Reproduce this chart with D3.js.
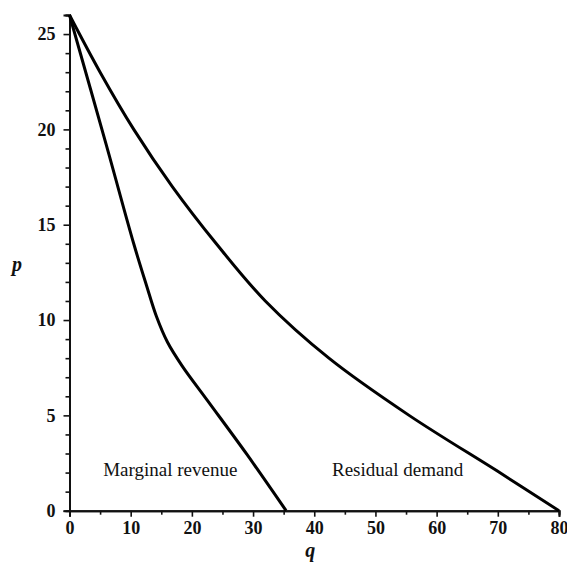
<!DOCTYPE html>
<html>
<head>
<meta charset="utf-8">
<script src="https://cdn.jsdelivr.net/npm/d3@7"></script>
<style>
  html, body { margin: 0; padding: 0; background: #fff; }
  svg { display: block; }
  text { font-family: "Liberation Serif", "Times New Roman", serif; fill: #111; }
</style>
</head>
<body>
<svg id="chart" width="567" height="563"></svg>
<script>
// Residual demand curve, points (q, p)
const residualQ = [0, 5, 10.5, 16.8, 24, 32, 42.4, 55.5, 70.3, 80];
const residualP = [26, 23, 20, 17, 14, 11, 8, 5, 2, 0];

// Marginal revenue curve, points (q, p)
const marginalQ = [0, 6, 10.5, 12.6, 14.2, 16, 18.4, 22.5, 29, 35.4];
const marginalP = [26, 19.2, 14.0, 11.8, 10.2, 8.85, 7.6, 5.8, 2.95, 0];

// Axis ticks
const xMajorTicks = [0, 10, 20, 30, 40, 50, 60, 70, 80];
const xMinorTicks = [5, 15, 25, 35, 45, 55, 65, 75];
const yMajorTicks = [0, 5, 10, 15, 20, 25];
const yMinorTicks = [1, 2, 3, 4, 6, 7, 8, 9, 11, 12, 13, 14, 16, 17, 18, 19, 21, 22, 23, 24, 26];

// Curve labels
const curveLabels = ["Marginal revenue", "Residual demand"];
const curveLabelQ = [5.5, 42.9];
const curveLabelP = [1.8, 1.8];

const svg = d3.select("#chart");
const margin = { top: 15, right: 8, bottom: 52.3, left: 69.5 };
const W = 567, H = 563;

const x = d3.scaleLinear().domain([0, 80]).range([margin.left, W - margin.right]);
const y = d3.scaleLinear().domain([0, 26]).range([H - margin.bottom, margin.top]);

// X axis: major ticks with labels, minor ticks without
const xAxisG = svg.append("g").attr("transform", `translate(0,${y(0)})`);
xAxisG.call(d3.axisBottom(x).tickValues(xMajorTicks).tickSize(6).tickPadding(4).tickFormat(d3.format("d")));
xAxisG.append("g").call(d3.axisBottom(x).tickValues(xMinorTicks).tickSize(4).tickFormat(""));

// Y axis
const yAxisG = svg.append("g").attr("transform", `translate(${x(0)},0)`);
yAxisG.call(d3.axisLeft(y).tickValues(yMajorTicks).tickSize(6).tickPadding(8).tickFormat(d3.format("d")));
yAxisG.append("g").call(d3.axisLeft(y).tickValues(yMinorTicks).tickSize(4).tickFormat(""));

svg.selectAll(".domain").attr("stroke", "#111").attr("stroke-width", 2);
svg.selectAll(".tick line").attr("stroke", "#111").attr("stroke-width", 1.6);
svg.selectAll(".tick text")
  .attr("font-family", "'Liberation Serif', serif")
  .attr("font-size", 18)
  .attr("font-weight", "bold")
  .attr("fill", "#111");
xAxisG.selectAll(".tick text").attr("dy", "0.75em");

// Curves
const line = d3.line()
  .x(d => x(d[0]))
  .y(d => y(d[1]))
  .curve(d3.curveCatmullRom.alpha(0.5));

const residual = residualQ.map((q, i) => [q, residualP[i]]);
const marginal = marginalQ.map((q, i) => [q, marginalP[i]]);

[residual, marginal].forEach(data => {
  svg.append("path")
    .datum(data)
    .attr("fill", "none")
    .attr("stroke", "#000")
    .attr("stroke-width", 3)
    .attr("stroke-linejoin", "round")
    .attr("d", line);
});

// Curve labels
svg.selectAll(".curve-label")
  .data(curveLabels)
  .enter().append("text")
  .attr("class", "curve-label")
  .attr("x", (d, i) => x(curveLabelQ[i]))
  .attr("y", (d, i) => y(curveLabelP[i]))
  .attr("font-size", 19)
  .text(d => d);

// Axis titles
svg.append("text")
  .attr("x", x(40) - 4)
  .attr("y", 557)
  .attr("text-anchor", "middle")
  .attr("font-size", 20)
  .attr("font-style", "italic")
  .attr("font-weight", "bold")
  .text("q");

svg.append("text")
  .attr("x", 17)
  .attr("y", 271)
  .attr("text-anchor", "middle")
  .attr("font-size", 20)
  .attr("font-style", "italic")
  .attr("font-weight", "bold")
  .text("p");
</script>
</body>
</html>
